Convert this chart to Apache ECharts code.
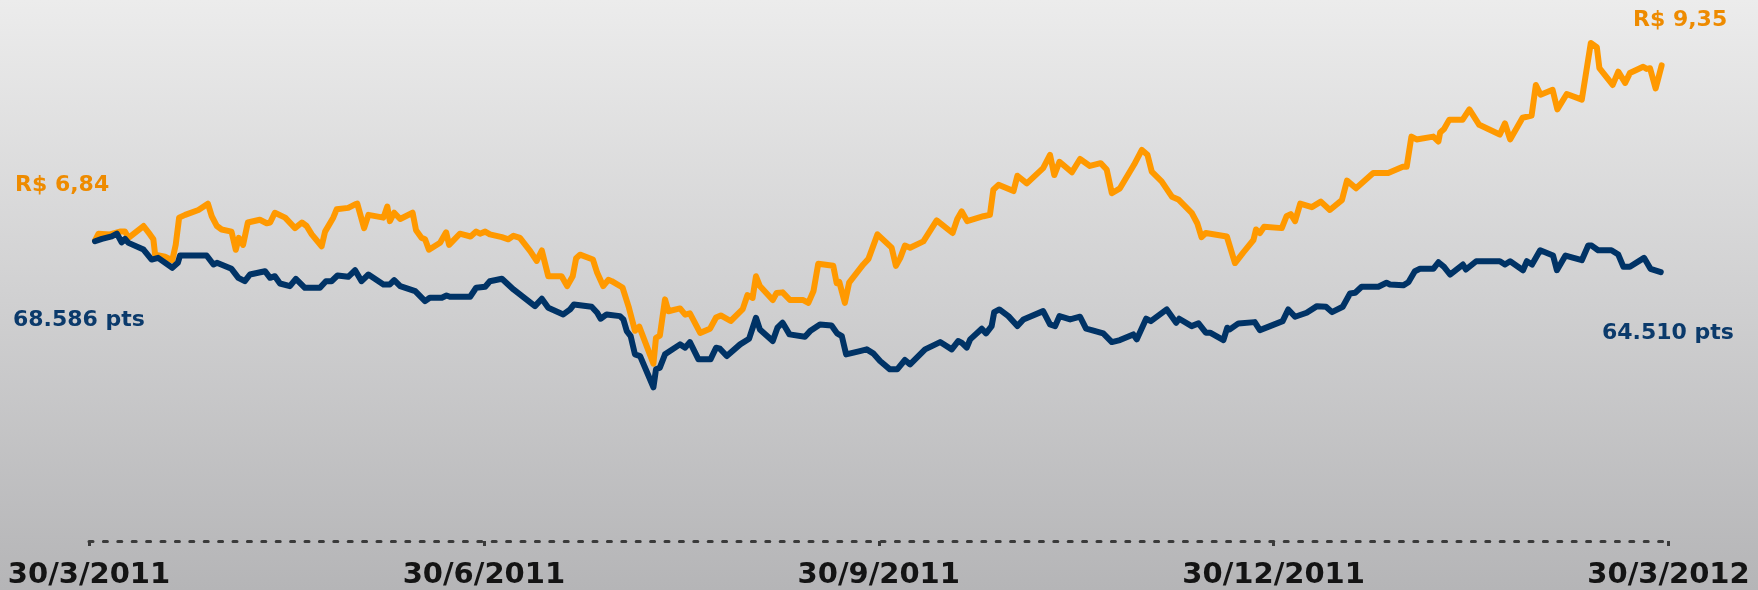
<!DOCTYPE html>
<html>
<head>
<meta charset="utf-8">
<script src="https://cdn.jsdelivr.net/npm/echarts@6/dist/echarts.min.js"></script>
<style>
  html, body { margin: 0; padding: 0; }
  #chart { width: 1758px; height: 590px; }
</style>
</head>
<body>
<div id="chart"></div>
<script>
// x values are days counted from 30/3/2011
const tickLabels = ['30/3/2011', '30/6/2011', '30/9/2011', '30/12/2011', '30/3/2012']

// share price, R$
const priceDays = [1.4, 2.2, 4.9, 7.2, 8.4, 9.2, 12.7, 14.2, 15.0, 15.4,
  17.7, 19.4, 20.2, 21.0, 22.4, 25.5, 27.7, 28.6, 29.8, 30.9,
  33.2, 34.2, 34.9, 35.9, 37.0, 39.8, 41.4, 42.2, 43.3, 45.7,
  48.0, 49.6, 50.7, 51.9, 54.2, 55.0, 56.9, 57.7, 60.4, 62.0,
  62.5, 64.1, 65.1, 68.6, 69.5, 70.1, 71.1, 72.5, 75.4, 76.2,
  77.5, 78.3, 79.2, 81.8, 83.2, 83.9, 86.4, 88.9, 90.2, 91.1,
  92.3, 93.4, 96.2, 97.7, 98.9, 100.4, 102.8, 104.3, 105.5, 107.0,
  110.1, 111.4, 112.7, 113.5, 114.4, 117.4, 118.4, 119.8, 121.0, 121.8,
  124.3, 125.7, 127.2, 128.2, 131.5, 132.1, 133.0, 134.2, 135.0, 137.7,
  138.9, 140.0, 142.4, 144.7, 146.1, 147.2, 149.5, 152.3, 153.4, 154.6,
  155.4, 156.3, 159.3, 160.2, 161.6, 163.3, 166.4, 167.6, 168.8, 169.9,
  173.4, 174.2, 174.8, 176.1, 177.1, 180.4, 181.6, 183.7, 187.0, 188.0,
  189.0, 190.1, 191.3, 194.4, 197.5, 201.2, 202.3, 203.3, 204.6, 208.4,
  209.9, 210.7, 211.9, 215.4, 216.3, 218.5, 222.3, 223.9, 224.9, 226.1,
  229.0, 230.9, 233.2, 235.7, 237.1, 238.3, 240.2, 243.5, 245.3, 246.6,
  247.6, 249.9, 252.3, 253.8, 256.9, 258.2, 259.2, 260.2, 265.1, 267.0,
  268.9, 271.3, 271.9, 272.8, 273.8, 277.9, 279.0, 280.0, 281.0, 282.2,
  284.9, 287.0, 289.1, 291.9, 293.1, 295.2, 299.2, 302.7, 306.1, 307.0,
  308.1, 309.3, 313.2, 314.4, 314.8, 315.7, 316.9, 320.0, 321.6, 323.9,
  328.7, 329.9, 331.1, 334.0, 336.1, 337.1, 338.2, 341.0, 342.1, 344.3,
  347.8, 349.9, 351.3, 351.9, 355.0, 356.3, 357.9, 359.0, 362.1, 362.9,
  363.7, 365.0, 366.4]
const priceValues = [6.84, 6.94, 6.93, 6.97, 6.97, 6.88, 7.05, 6.93, 6.86, 6.64,
  6.61, 6.56, 6.78, 7.17, 7.21, 7.28, 7.37, 7.19, 7.05, 7.00,
  6.97, 6.71, 6.88, 6.78, 7.10, 7.14, 7.09, 7.10, 7.24, 7.17,
  7.02, 7.10, 7.05, 6.93, 6.76, 6.97, 7.17, 7.29, 7.31, 7.36,
  7.37, 7.02, 7.21, 7.17, 7.33, 7.12, 7.24, 7.15, 7.24, 6.99,
  6.88, 6.86, 6.71, 6.81, 6.96, 6.78, 6.94, 6.90, 6.97, 6.94,
  6.97, 6.93, 6.89, 6.86, 6.91, 6.88, 6.69, 6.55, 6.70, 6.33,
  6.33, 6.19, 6.33, 6.59, 6.64, 6.57, 6.38, 6.19, 6.28, 6.26,
  6.17, 5.90, 5.55, 5.61, 5.08, 5.45, 5.48, 6.00, 5.83, 5.87,
  5.78, 5.80, 5.52, 5.58, 5.74, 5.77, 5.69, 5.86, 6.06, 6.02,
  6.33, 6.19, 5.99, 6.09, 6.10, 5.99, 5.99, 5.95, 6.12, 6.51,
  6.48, 6.23, 6.25, 5.95, 6.24, 6.50, 6.58, 6.93, 6.74, 6.48,
  6.59, 6.77, 6.74, 6.83, 7.13, 6.95, 7.15, 7.26, 7.12, 7.19,
  7.21, 7.57, 7.64, 7.55, 7.77, 7.66, 7.88, 8.07, 7.78, 7.97,
  7.82, 8.01, 7.91, 7.95, 7.86, 7.52, 7.59, 7.93, 8.14, 8.07,
  7.83, 7.69, 7.47, 7.43, 7.24, 7.09, 6.89, 6.95, 6.90, 6.52,
  6.67, 6.85, 7.00, 6.95, 7.04, 7.02, 7.19, 7.22, 7.12, 7.37,
  7.32, 7.40, 7.28, 7.42, 7.70, 7.59, 7.81, 7.81, 7.90, 7.90,
  8.33, 8.29, 8.33, 8.26, 8.39, 8.44, 8.57, 8.57, 8.72, 8.50,
  8.36, 8.52, 8.29, 8.60, 8.63, 9.07, 8.93, 9.00, 8.72, 8.94,
  8.86, 9.67, 9.61, 9.31, 9.07, 9.26, 9.10, 9.24, 9.33, 9.30,
  9.31, 9.02, 9.35]

// Ibovespa, pts
const indexDays = [1.4, 3.0, 5.3, 6.5, 7.6, 8.4, 9.2, 12.7, 14.6, 16.1,
  19.4, 20.7, 21.2, 27.4, 29.0, 29.8, 33.2, 34.8, 36.3, 37.5,
  41.0, 42.2, 43.3, 44.5, 46.8, 48.2, 50.3, 53.8, 55.2, 56.5,
  57.9, 60.4, 62.0, 62.4, 63.5, 65.1, 68.6, 70.1, 71.1, 72.5,
  76.0, 78.3, 79.4, 82.2, 83.3, 84.1, 88.8, 90.2, 92.3, 93.4,
  96.2, 98.9, 103.9, 105.5, 107.0, 110.5, 112.1, 113.0, 117.1, 118.4,
  119.2, 120.6, 123.7, 124.5, 125.3, 126.2, 127.2, 128.4, 131.5, 132.1,
  133.0, 134.2, 137.7, 138.9, 140.0, 142.0, 144.8, 146.1, 147.0, 148.6,
  151.7, 153.8, 155.4, 156.3, 159.3, 160.4, 161.6, 163.2, 166.8, 168.0,
  170.3, 173.0, 174.3, 175.4, 176.4, 179.6, 181.2, 182.7, 184.3, 186.6,
  188.3, 190.1, 191.3, 194.8, 198.3, 201.0, 202.5, 203.3, 204.5, 205.3,
  208.0, 209.0, 210.3, 210.9, 212.1, 214.2, 216.3, 217.7, 222.3, 223.9,
  225.1, 226.1, 228.6, 230.9, 232.3, 233.6, 236.3, 238.3, 240.2, 243.3,
  244.1, 246.3, 247.4, 251.1, 253.3, 254.0, 256.9, 258.5, 260.2, 261.2,
  264.3, 265.2, 265.8, 267.8, 271.6, 272.8, 278.1, 279.4, 281.0, 283.7,
  286.1, 288.2, 289.6, 292.1, 293.8, 295.0, 296.5, 300.4, 302.3, 303.1,
  306.2, 307.4, 308.9, 310.1, 313.2, 314.4, 315.7, 317.1, 320.1, 320.8,
  323.2, 328.7, 329.9, 331.1, 334.1, 335.0, 336.2, 338.1, 341.1, 342.0,
  344.0, 347.8, 349.3, 350.1, 351.6, 354.7, 356.3, 357.5, 359.0, 362.3,
  363.8, 366.2]
const indexValues = [68586, 68896, 69239, 69595, 68448, 68896, 68369, 67486, 66168, 66392,
  65074, 65733, 66695, 66695, 65509, 65733, 64942, 63756, 63308, 64191,
  64626, 63756, 63967, 63005, 62649, 63624, 62438, 62438, 63308, 63308,
  64059, 63888, 64758, 64626, 63308, 64191, 62873, 62873, 63440, 62649,
  61990, 60672, 61120, 61120, 61423, 61252, 61252, 62438, 62570, 63308,
  63624, 62214, 60013, 60988, 59802, 58919, 59578, 60237, 59934, 59143,
  58352, 58919, 58695, 58260, 56718, 56059, 53647, 53423, 49300, 51670,
  51894, 53647, 54965, 54530, 55268, 52988, 52988, 54530, 54398, 53423,
  54965, 55716, 58484, 56942, 55400, 57166, 57825, 56283, 55980, 56718,
  57601, 57469, 56415, 56059, 53647, 54082, 54306, 53779, 52764, 51670,
  51670, 52896, 52329, 54306, 55268, 54306, 55400, 55189, 54530, 55624,
  57034, 56415, 57377, 59222, 59578, 58695, 57377, 58260, 59354, 57601,
  57377, 58695, 58260, 58616, 57034, 56850, 56415, 55268, 55532, 56283,
  55624, 58352, 58036, 59578, 57825, 58352, 57377, 57733, 56507, 56507,
  55532, 57166, 56942, 57733, 57904, 56850, 58036, 59578, 58616, 59143,
  60013, 59934, 59222, 59934, 61687, 61779, 62570, 62570, 63097, 62873,
  62760, 63176, 64626, 64942, 64942, 65812, 65206, 64191, 65509, 64850,
  65944, 65944, 65509, 65944, 64758, 65944, 65509, 67394, 66695, 64758,
  66695, 66076, 68013, 68013, 67394, 67394, 66827, 65206, 65206, 66392,
  64942, 64510]

const priceStart = 'R$ 6,84'
const priceEnd = 'R$ 9,35'
const indexStart = '68.586 pts'
const indexEnd = '64.510 pts'

const chart = echarts.init(document.getElementById('chart'))

const labelFont = 'bold 22px "DejaVu Sans"'
const orangeText = '#EE8B00'
const blueText = '#0B3A6B'

chart.setOption({
  animation: false,
  backgroundColor: new echarts.graphic.LinearGradient(0, 0, 0, 1, [
    { offset: 0, color: '#ececec' },
    { offset: 1, color: '#b5b5b7' }
  ]),
  grid: {
    left: 89,
    right: 89.5,
    top: 20,
    bottom: 48
  },
  xAxis: {
    type: 'value',
    min: 0,
    max: 368,
    interval: 92,
    splitLine: { show: false },
    axisLine: {
      show: true,
      lineStyle: { color: '#3a3a3a', width: 3, type: [4, 10.4] }
    },
    axisTick: {
      show: true,
      length: 5,
      lineStyle: { color: '#3a3a3a', width: 3 }
    },
    axisLabel: {
      formatter: v => tickLabels[Math.round(v / 92)],
      fontFamily: 'DejaVu Sans',
      fontWeight: 'bold',
      fontSize: 29,
      color: '#141414',
      margin: 20
    }
  },
  yAxis: [
    { type: 'value', min: 2.54, max: 10, show: false, splitLine: { show: false } },
    { type: 'value', min: 29000, max: 97800, show: false, splitLine: { show: false } }
  ],
  series: [
    {
      name: 'price',
      type: 'line',
      yAxisIndex: 0,
      symbol: 'none',
      lineStyle: { color: '#FF9900', width: 6, join: 'round', cap: 'round' },
      data: priceDays.map((d, i) => [d, priceValues[i]])
    },
    {
      name: 'ibovespa',
      type: 'line',
      yAxisIndex: 1,
      symbol: 'none',
      lineStyle: { color: '#003366', width: 6, join: 'round', cap: 'round' },
      data: indexDays.map((d, i) => [d, indexValues[i]])
    }
  ],
  graphic: [
    { type: 'text', x: 15, y: 185, style: { text: priceStart, font: labelFont, fill: orangeText, verticalAlign: 'middle' } },
    { type: 'text', x: 13, y: 320, style: { text: indexStart, font: labelFont, fill: blueText, verticalAlign: 'middle' } },
    { type: 'text', x: 1633, y: 20, style: { text: priceEnd, font: labelFont, fill: orangeText, verticalAlign: 'middle' } },
    { type: 'text', x: 1602, y: 333, style: { text: indexEnd, font: labelFont, fill: blueText, verticalAlign: 'middle' } }
  ]
})
</script>
</body>
</html>
